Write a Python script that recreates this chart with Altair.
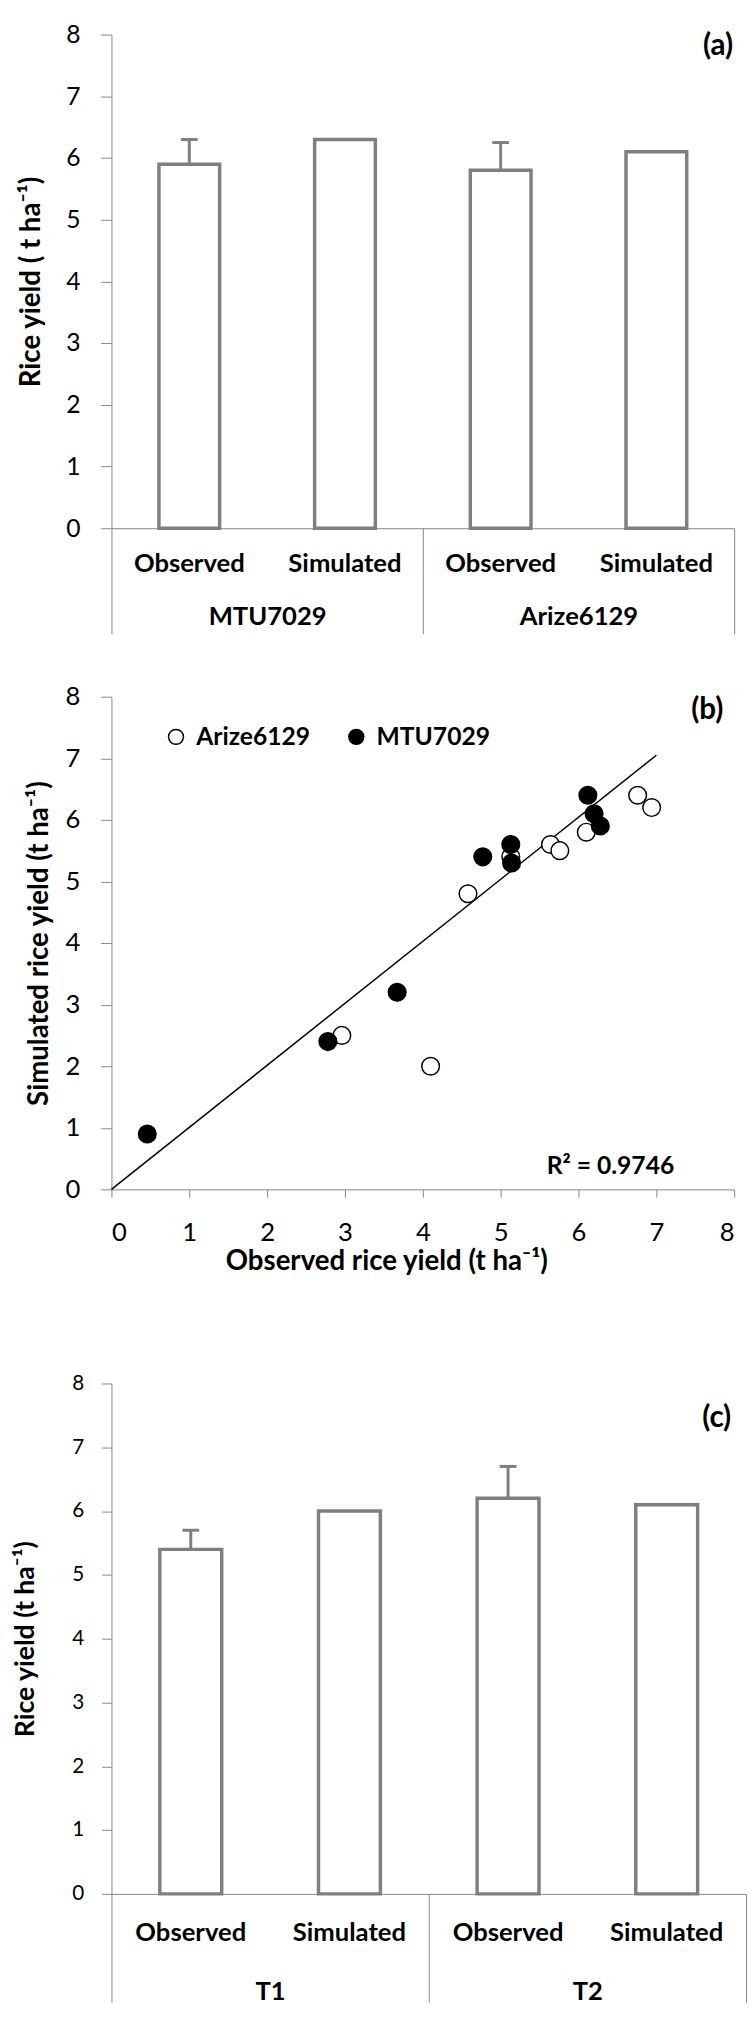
import altair as alt
import pandas as pd

FONT = "Lato"
AXIS_GRAY = "#868686"
BAR_GRAY = "#7f7f7f"

# ---------------- data ----------------
# panel (a)
a_groups = ["MTU7029", "MTU7029", "Arize6129", "Arize6129"]
a_sources = ["Observed", "Simulated", "Observed", "Simulated"]
a_yield = [5.9, 6.3, 5.8, 6.1]
a_err = [0.4, 0.0, 0.45, 0.0]

# panel (b)
b_arize_obs = [2.96, 4.10, 4.58, 5.13, 5.64, 5.76, 6.10, 6.76, 6.94]
b_arize_sim = [2.5, 2.0, 4.8, 5.4, 5.6, 5.5, 5.8, 6.4, 6.2]
b_mtu_obs = [0.46, 2.78, 3.67, 4.77, 5.13, 5.14, 6.12, 6.20, 6.28]
b_mtu_sim = [0.9, 2.4, 3.2, 5.4, 5.6, 5.3, 6.4, 6.1, 5.9]
b_fit_x = [0.0, 7.0]
b_fit_y = [0.0, 7.05]
b_r2 = ["R² = 0.9746"]
b_r2_pos = [6.41, 0.38]

# panel (c)
c_groups = ["T1", "T1", "T2", "T2"]
c_sources = ["Observed", "Simulated", "Observed", "Simulated"]
c_yield = [5.4, 6.0, 6.2, 6.1]
c_err = [0.3, 0.0, 0.5, 0.0]

ticks8 = list(range(0, 9))


def bar_panel(groups, sources, values, errs, tag, ytitle, w, h,
              tick_font, tick_size, label_pad, cat_font, cat_pad, grp_pad,
              sep_len, title_font, title_pad, tag_x, tag_y):
    keys = [f"{g}|{s}" for g, s in zip(groups, sources)]
    group_order = list(dict.fromkeys(groups))
    df = pd.DataFrame({"key": keys, "group": groups, "source": sources,
                       "value": values, "err": errs})
    df["upper"] = df["value"] + df["err"]

    yscale = alt.Scale(domain=[0, 8], nice=False)
    yaxis = alt.Axis(values=ticks8, format="d", grid=False, domainColor=AXIS_GRAY,
                     tickColor=AXIS_GRAY, tickSize=tick_size,
                     labelFontSize=tick_font, labelPadding=label_pad,
                     labelColor="black", title=ytitle,
                     titleFontSize=title_font, titleFontWeight="bold",
                     titleColor="black", titlePadding=title_pad)
    xscale = alt.Scale(domain=keys, paddingInner=0, paddingOuter=0)
    xaxis = alt.Axis(orient="bottom", title=None, ticks=False,
                     labelExpr="split(datum.label, '|')[1]",
                     domainColor=AXIS_GRAY, labelFontSize=cat_font,
                     labelFontWeight="bold", labelColor="black",
                     labelPadding=cat_pad, labelBaseline="middle", labelAngle=0)

    base = alt.Chart(df)
    bars = base.mark_bar(fill="white", stroke=BAR_GRAY, strokeWidth=3.5,
                         width=alt.RelativeBandSize(0.39)).encode(
        x=alt.X("key:N", scale=xscale, axis=xaxis),
        y=alt.Y("value:Q", scale=yscale, axis=yaxis),
    )
    err = base.transform_filter("datum.err > 0").mark_rule(
        color=BAR_GRAY, strokeWidth=3).encode(
        x=alt.X("key:N", scale=xscale),
        y=alt.Y("value:Q", scale=yscale),
        y2="upper:Q",
    )
    cap = base.transform_filter("datum.err > 0").mark_tick(
        color=BAR_GRAY, size=17, thickness=3, opacity=1).encode(
        x=alt.X("key:N", scale=xscale),
        y=alt.Y("upper:Q", scale=yscale),
    )
    inner = alt.layer(bars, err, cap)

    gaxis = alt.Axis(orient="bottom", title=None, domain=False, ticks=True,
                     tickBand="extent", tickSize=sep_len, tickColor=AXIS_GRAY,
                     tickWidth=1, labelFontSize=cat_font, labelFontWeight="bold",
                     labelColor="black", labelPadding=grp_pad - sep_len,
                     labelBaseline="middle", labelAngle=0)
    grp = base.mark_point(opacity=0).encode(
        x=alt.X("group:N", scale=alt.Scale(domain=group_order, paddingInner=0,
                                           paddingOuter=0), axis=gaxis),
        y=alt.value(0),
    )
    tagc = alt.Chart(pd.DataFrame({"t": [tag]})).mark_text(
        font=FONT, fontSize=30, fontWeight="bold", align="right",
        baseline="middle", color="black").encode(
        x=alt.value(tag_x), y=alt.value(tag_y), text="t:N")

    return alt.layer(inner, grp, tagc).resolve_scale(x="independent").properties(
        width=w, height=h)


panel_a = bar_panel(a_groups, a_sources, a_yield, a_err, "(a)",
                    "Rice yield ( t ha⁻¹)", 632, 501,
                    tick_font=25, tick_size=11, label_pad=21,
                    cat_font=26, cat_pad=36, grp_pad=90,
                    sep_len=107, title_font=28, title_pad=21,
                    tag_x=631, tag_y=12)

# ---------------- panel (b) ----------------
pts = pd.DataFrame({
    "obs": b_arize_obs + b_mtu_obs,
    "sim": b_arize_sim + b_mtu_sim,
    "cultivar": ["Arize6129"] * len(b_arize_obs) + ["MTU7029"] * len(b_mtu_obs),
})
fit = pd.DataFrame({"obs": b_fit_x, "sim": b_fit_y})
r2 = pd.DataFrame({"obs": [b_r2_pos[0]], "sim": [b_r2_pos[1]], "t": b_r2})

sx = alt.Scale(domain=[0, 8], nice=False)
sy = alt.Scale(domain=[0, 8], nice=False)
bx_axis = alt.Axis(values=ticks8, format="d", grid=False, domainColor=AXIS_GRAY,
                   tickColor=AXIS_GRAY, tickSize=8, labelFontSize=26,
                   labelPadding=23, labelColor="black",
                   title="Observed rice yield (t ha⁻¹)", titleFontSize=28,
                   titleFontWeight="bold", titleColor="black",
                   titleX=279, titleY=73, titleBaseline="middle")
by_axis = alt.Axis(values=ticks8, format="d", grid=False, domainColor=AXIS_GRAY,
                   tickColor=AXIS_GRAY, tickSize=11, labelFontSize=26,
                   labelPadding=21, labelColor="black",
                   title="Simulated rice yield (t ha⁻¹)", titleFontSize=28,
                   titleFontWeight="bold", titleColor="black", titlePadding=12)

line = alt.Chart(fit).mark_line(color="black", strokeWidth=1.5).encode(
    x=alt.X("obs:Q", scale=sx, axis=bx_axis),
    y=alt.Y("sim:Q", scale=sy, axis=by_axis),
)
points = alt.Chart(pts).mark_point(shape="circle", filled=True, stroke="black",
                                   strokeWidth=1.5, size=320, opacity=1).encode(
    x=alt.X("obs:Q", scale=sx),
    y=alt.Y("sim:Q", scale=sy),
    fill=alt.Fill("cultivar:N",
                  scale=alt.Scale(domain=["Arize6129", "MTU7029"],
                                  range=["white", "black"]),
                  legend=alt.Legend(orient="none", legendX=53, legendY=28,
                                    direction="horizontal", title=None,
                                    labelFontSize=25, labelFontWeight="bold",
                                    labelColor="black", labelFont=FONT,
                                    symbolType="circle", symbolSize=230,
                                    symbolStrokeColor="black",
                                    symbolStrokeWidth=1.5, symbolOpacity=1,
                                    columnPadding=34, labelOffset=8)),
)
r2t = alt.Chart(r2).mark_text(font=FONT, fontSize=25, fontWeight="bold",
                               color="black", baseline="middle").encode(
    x=alt.X("obs:Q", scale=sx), y=alt.Y("sim:Q", scale=sy), text="t:N")
btag = alt.Chart(pd.DataFrame({"t": ["(b)"]})).mark_text(
    font=FONT, fontSize=30, fontWeight="bold", align="right",
    baseline="middle", color="black").encode(
    x=alt.value(621), y=alt.value(14), text="t:N")

panel_b = alt.layer(line, points, r2t, btag).properties(width=632, height=500)

panel_c = bar_panel(c_groups, c_sources, c_yield, c_err, "(c)",
                    "Rice yield (t ha⁻¹)", 644, 518,
                    tick_font=21, tick_size=10, label_pad=18,
                    cat_font=26, cat_pad=39, grp_pad=99,
                    sep_len=110, title_font=27, title_pad=33,
                    tag_x=629, tag_y=35)

inner = alt.concat(panel_b, panel_c, columns=1, spacing=99,
                   align="none").resolve_legend(fill="independent")
chart = alt.concat(panel_a, inner, columns=1, spacing=50, align="none").resolve_legend(
    fill="independent").properties(
    padding={"left": 3, "top": 0, "right": 0, "bottom": 0}
).configure(font=FONT).configure_view(stroke=None)

chart.save("out.html", embed_options={"renderer": "svg", "actions": False})
